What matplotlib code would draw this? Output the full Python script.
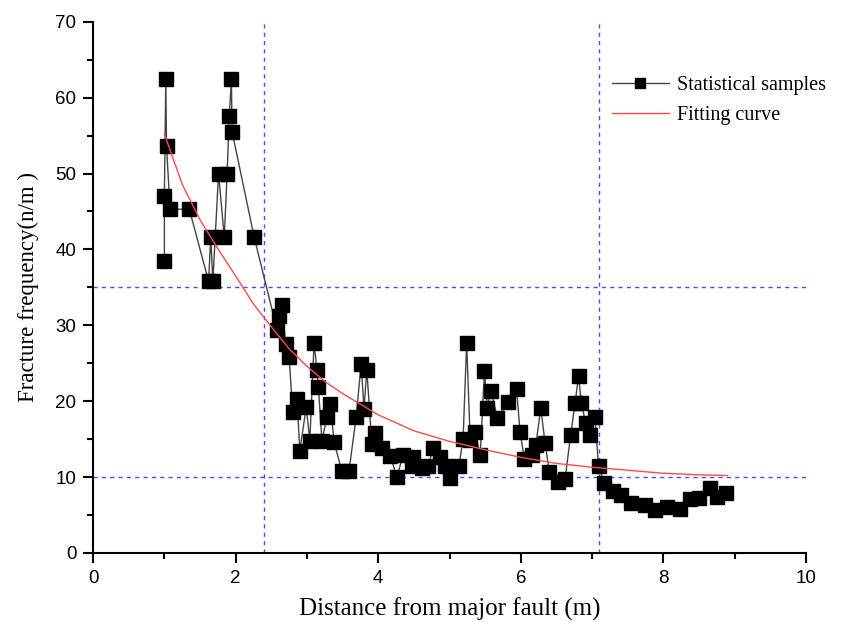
import matplotlib
matplotlib.use("Agg")
import matplotlib.pyplot as plt
from matplotlib.ticker import MultipleLocator

# statistical samples (distance m, fracture frequency n/m)
dist = [1.00, 1.00, 1.02, 1.03, 1.08, 1.35, 1.62, 1.65, 1.68, 1.76,
        1.84, 1.88, 1.91, 1.94, 1.95, 2.26, 2.58, 2.61, 2.65, 2.70,
        2.75, 2.80, 2.86, 2.90, 2.99, 3.04, 3.10, 3.14, 3.16, 3.21,
        3.28, 3.33, 3.38, 3.49, 3.59, 3.69, 3.76, 3.80, 3.84, 3.91,
        3.96, 4.05, 4.17, 4.26, 4.35, 4.47, 4.49, 4.61, 4.70, 4.77,
        4.86, 4.94, 5.01, 5.13, 5.19, 5.24, 5.29, 5.36, 5.43, 5.49,
        5.53, 5.58, 5.67, 5.82, 5.94, 5.99, 6.05, 6.15, 6.21, 6.28,
        6.34, 6.40, 6.52, 6.62, 6.70, 6.76, 6.81, 6.85, 6.91, 6.97,
        7.04, 7.09, 7.17, 7.30, 7.41, 7.55, 7.74, 7.88, 8.05, 8.23,
        8.37, 8.50, 8.65, 8.75, 8.88]
freq = [38.5, 47.0, 62.4, 53.6, 45.3, 45.3, 35.8, 41.6, 35.8, 50.0,
        41.6, 50.0, 57.6, 62.4, 55.5, 41.6, 29.4, 31.2, 32.7, 27.6,
        25.8, 18.6, 20.3, 13.5, 19.2, 14.8, 27.7, 24.1, 21.9, 14.8,
        17.9, 19.6, 14.6, 10.8, 10.8, 17.9, 24.9, 19.0, 24.1, 14.4,
        15.8, 13.8, 12.8, 10.0, 12.9, 11.4, 12.7, 11.2, 11.4, 13.8,
        12.7, 11.4, 9.9, 11.4, 15.0, 27.7, 14.9, 15.9, 12.9, 24.0,
        19.1, 21.4, 17.8, 19.9, 21.6, 15.9, 12.4, 12.9, 14.2, 19.1,
        14.5, 10.7, 9.4, 9.7, 15.6, 19.7, 23.3, 19.7, 17.1, 15.6,
        17.9, 11.5, 9.2, 8.1, 7.7, 6.6, 6.3, 5.7, 6.0, 5.8,
        7.1, 7.3, 8.6, 7.4, 7.9]

# fitting curve
fit_x = [1.0, 1.25, 1.5, 1.75, 2.0, 2.25, 2.5, 2.75, 3.0, 3.25, 3.5, 3.75,
         4.0, 4.5, 5.0, 5.5, 6.0, 6.5, 7.0, 7.5, 8.0, 8.5, 8.9]
fit_y = [55.2, 48.6, 43.9, 40.1, 36.5, 32.8, 29.8, 26.9, 24.6, 22.6, 21.0, 19.6,
         18.2, 16.1, 14.7, 13.6, 12.6, 11.8, 11.3, 10.9, 10.5, 10.3, 10.2]

# zone boundaries
zone_x = [2.4, 7.1]
zone_y = [10, 35]

serif = "Liberation Serif"
sans = "Liberation Sans"

fig = plt.figure(figsize=(8.62, 6.22), dpi=100)
ax = fig.add_axes([0.108, 0.111, 0.827, 0.854])

for xv in zone_x:
    ax.axvline(xv, color="#4a4aff", lw=1, ls=(0, (3, 3)), zorder=1)
for yv in zone_y:
    ax.axhline(yv, color="#4a4aff", lw=1, ls=(0, (3, 3)), zorder=1)

ax.plot(dist, freq, color="#444444", lw=1, marker="s", ms=9.5,
        mfc="black", mec="black", label="Statistical samples", zorder=3)
ax.plot(fit_x, fit_y, color="#ff4a4a", lw=1, label="Fitting curve", zorder=4)

ax.set_xlim(0, 10)
ax.set_ylim(0, 70)
ax.xaxis.set_major_locator(MultipleLocator(2))
ax.xaxis.set_minor_locator(MultipleLocator(1))
ax.yaxis.set_major_locator(MultipleLocator(10))
ax.yaxis.set_minor_locator(MultipleLocator(5))

for s in ["top", "right"]:
    ax.spines[s].set_visible(False)
for s in ["left", "bottom"]:
    ax.spines[s].set_linewidth(1.5)
ax.tick_params(which="major", direction="out", length=7, width=1.5,
               labelsize=13.5, pad=5)
ax.tick_params(which="minor", direction="out", length=4, width=1.5)
for lab in ax.get_xticklabels() + ax.get_yticklabels():
    lab.set_fontfamily(sans)

ax.set_xlabel("Distance from major fault (m)", fontsize=18, family=serif,
              labelpad=8)
ax.set_ylabel("Fracture frequency(n/m )", fontsize=16.5, family=serif,
              labelpad=12)

ax.legend(loc="upper left", bbox_to_anchor=(594 / 862, 1 - 58 / 622),
          bbox_transform=fig.transFigure, frameon=False,
          prop={"family": serif, "size": 14.5}, handlelength=2.8,
          handletextpad=0.4, labelspacing=0.55, markerscale=0.8)

fig.savefig("out.png", dpi=100)
